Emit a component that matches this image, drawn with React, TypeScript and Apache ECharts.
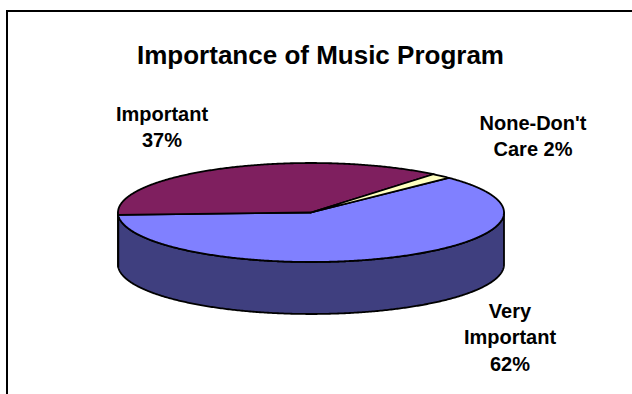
import React, { useEffect, useRef } from "react";
import * as echarts from "echarts";

// ---- data ----
const categories = ["Very Important", "Important", "None-Don't Care"];
const values = [61.6, 36.7, 1.7];
const titleText = "Importance of Music Program";

// ---- style / layout ----
const topColors = ["#8080ff", "#7f1f5f", "#ffffc0"];
const sideColors = ["#3f3f7f", "#3f0f2f", "#80805f"];
const labelCenters = [
  [510, 337],
  [162, 127],
  [533, 136],
];
const PIE = { cx: 311, cy: 212.5, rx: 193, ry: 49.5, depth: 52, start: 44.5 };
const FONT_FAMILY = '"Liberation Sans", Arial, sans-serif';
const LABEL_FONT = `bold 20px ${FONT_FAMILY}`;

function wrapText(text: string, font: string, maxW: number): string {
  const ctx = document.createElement("canvas").getContext("2d");
  if (!ctx) return text;
  ctx.font = font;
  const words = text.split(" ");
  const lines: string[] = [];
  let cur = "";
  for (const w of words) {
    const t = cur ? cur + " " + w : w;
    if (cur && ctx.measureText(t).width > maxW) {
      lines.push(cur);
      cur = w;
    } else cur = t;
  }
  if (cur) lines.push(cur);
  return lines.join("\n");
}

function pt(t: number, dy = 0): number[] {
  const r = (t * Math.PI) / 180;
  return [PIE.cx + PIE.rx * Math.cos(r), PIE.cy - PIE.ry * Math.sin(r) + dy];
}

function arcPoints(hi: number, lo: number, dy = 0): number[][] {
  const pts: number[][] = [];
  const n = Math.max(2, Math.ceil((hi - lo) / 0.5));
  for (let k = 0; k <= n; k++) pts.push(pt(hi - ((hi - lo) * k) / n, dy));
  return pts;
}

export default function App() {
  const ref = useRef<HTMLDivElement>(null);
  useEffect(() => {
    if (!ref.current) return;
    const chart = echarts.init(ref.current, null, { renderer: "svg" });
    const total = values.reduce((a, b) => a + b, 0);

    const renderItem = (params: any, api: any) => {
      const i = params.dataIndex;
      const v = api.value(0) as number;
      const before = values.slice(0, i).reduce((a, b) => a + b, 0);
      const a0 = PIE.start - (before / total) * 360; // higher angle
      const a1 = a0 - (v / total) * 360; // lower angle
      const children: any[] = [];
      // sides: visible where sin(t) <= 0, i.e. t in [180+360k, 360+360k]
      for (let k = -2; k <= 1; k++) {
        const lo = Math.max(a1, 180 + 360 * k);
        const hi = Math.min(a0, 360 + 360 * k);
        if (hi - lo > 0.01) {
          const topArc = arcPoints(hi, lo, 0);
          const botArc = arcPoints(hi, lo, PIE.depth).reverse();
          children.push({
            type: "polygon",
            z2: 1,
            shape: { points: topArc.concat(botArc) },
            style: { fill: sideColors[i], stroke: "#000", lineWidth: 1.8, lineJoin: "round" },
          });
        }
      }
      // top face
      children.push({
        type: "polygon",
        z2: 5,
        shape: { points: [[PIE.cx, PIE.cy]].concat(arcPoints(a0, a1, 0)) },
        style: { fill: topColors[i], stroke: "#000", lineWidth: 1.8, lineJoin: "round" },
      });
      // label
      const pct = Math.round((v / total) * 100);
      const label = wrapText(`${categories[i]} ${pct}%`, LABEL_FONT, 112);
      children.push({
        type: "text",
        z2: 10,
        style: {
          text: label,
          x: labelCenters[i][0],
          y: labelCenters[i][1],
          align: "center",
          verticalAlign: "middle",
          font: LABEL_FONT,
          lineHeight: 26.5,
          fill: "#000",
        },
      });
      return { type: "group", children };
    };

    chart.setOption({
      animation: false,
      backgroundColor: "#fff",
      title: {
        text: titleText,
        left: 320.5,
        top: 41.5,
        textAlign: "center",
        padding: 0,
        textStyle: {
          fontSize: 26,
          fontWeight: "bold",
          fontFamily: FONT_FAMILY,
          color: "#000",
        },
      },
      graphic: [
        {
          type: "rect",
          shape: { x: 7, y: 11, width: 700, height: 500 },
          style: { fill: "none", stroke: "#000", lineWidth: 2 },
          silent: true,
        },
      ],
      series: [
        {
          type: "custom",
          coordinateSystem: "none",
          silent: true,
          data: values.map((v, i) => ({ name: categories[i], value: [v, i] })),
          renderItem,
        },
      ],
    });
    return () => chart.dispose();
  }, []);
  return (
    <div
      ref={ref}
      style={{ position: "fixed", left: 0, top: 0, width: 632, height: 394 }}
    />
  );
}
